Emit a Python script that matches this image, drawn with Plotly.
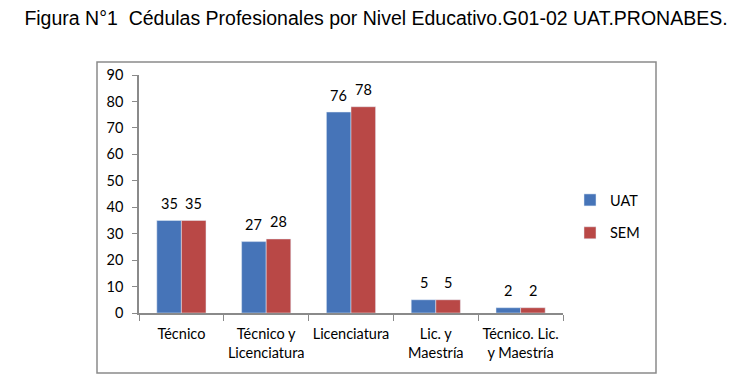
import plotly.graph_objects as go

categories = ["Técnico", "Técnico y<br>Licenciatura", "Licenciatura", "Lic. y<br>Maestría", "Técnico. Lic.<br>y Maestría"]
uat = [35, 27, 76, 5, 2]
sem = [35, 28, 78, 5, 2]
y_ticks = [0, 10, 20, 30, 40, 50, 60, 70, 80, 90]

# page has an 8px body margin; work in page pixels and convert
OFF = 8
W, H = 752 - 2 * OFF, 387 - 2 * OFF
L, R, T, B = 139, 563, 75, 313  # plot area in page pixels

font_fam = "Lato, Carlito, Calibri, sans-serif"
BARGAP = 0.42
slot = (R - L) / len(categories)
bar_w = slot * (1 - BARGAP) / 2

fig = go.Figure()
fig.add_trace(go.Bar(name="UAT", x=categories, y=uat, marker_color="#4674B8",
                     legendgroup="a"))
fig.add_trace(go.Bar(name="SEM", x=categories, y=sem, marker_color="#B94846",
                     legendgroup="b"))

annotations = []
for vals, sh in ((uat, -bar_w / 2), (sem, bar_w / 2)):
    for c, v in zip(categories, vals):
        annotations.append(dict(x=c, y=v, xref="x", yref="y", text=str(v), showarrow=False,
                                xshift=sh, yshift=17, yanchor="middle", xanchor="center",
                                font=dict(family=font_fam, size=14.5, color="black")))

def px(x):
    return (x - L) / (R - L)

def py(y):
    return (B - y) / (B - T)

fig.update_layout(
    width=W, height=H,
    margin=dict(l=L - OFF, r=(W + OFF) - R, t=T - OFF, b=(H + OFF) - B, pad=0,
                autoexpand=False),
    paper_bgcolor="white", plot_bgcolor="white",
    barmode="group", bargap=BARGAP, bargroupgap=0,
    title=dict(text="Figura N°1  Cédulas Profesionales por Nivel Educativo.G01-02 UAT.PRONABES.",
               x=0.5, xanchor="center", xref="container", y=1 - (18 - OFF) / H, yanchor="middle",
               font=dict(family="Liberation Sans, Arial", size=19.5, color="black")),
    legend=dict(x=px(570), y=py(184), xanchor="left", yanchor="top",
                font=dict(family=font_fam, size=14.5, color="black"),
                tracegroupgap=11, itemwidth=30, bgcolor="rgba(0,0,0,0)"),
    showlegend=True,
    annotations=annotations,
    shapes=[dict(type="rect", xref="paper", yref="paper",
                 x0=px(97), x1=px(656), y0=py(373), y1=py(62),
                 line=dict(color="#8a8a8a", width=1.5), layer="below")],
)
fig.update_xaxes(showline=True, linecolor="#8a8a8a", linewidth=1.5,
                 ticks="outside", tickson="boundaries", ticklen=6, tickcolor="#8a8a8a",
                 tickfont=dict(family=font_fam, size=14.5, color="black"),
                 tickangle=0, automargin=False,
                 ticklabelstandoff=7, showgrid=False)
fig.update_yaxes(range=[0, 90], tickvals=y_ticks, showline=True, linecolor="#8a8a8a", linewidth=1.5,
                 ticks="outside", ticklen=5, tickcolor="#8a8a8a",
                 tickfont=dict(family=font_fam, size=14.5, color="black"),
                 automargin=False,
                 ticklabelstandoff=6, showgrid=False, zeroline=False)

fig.write_html("out.html")
